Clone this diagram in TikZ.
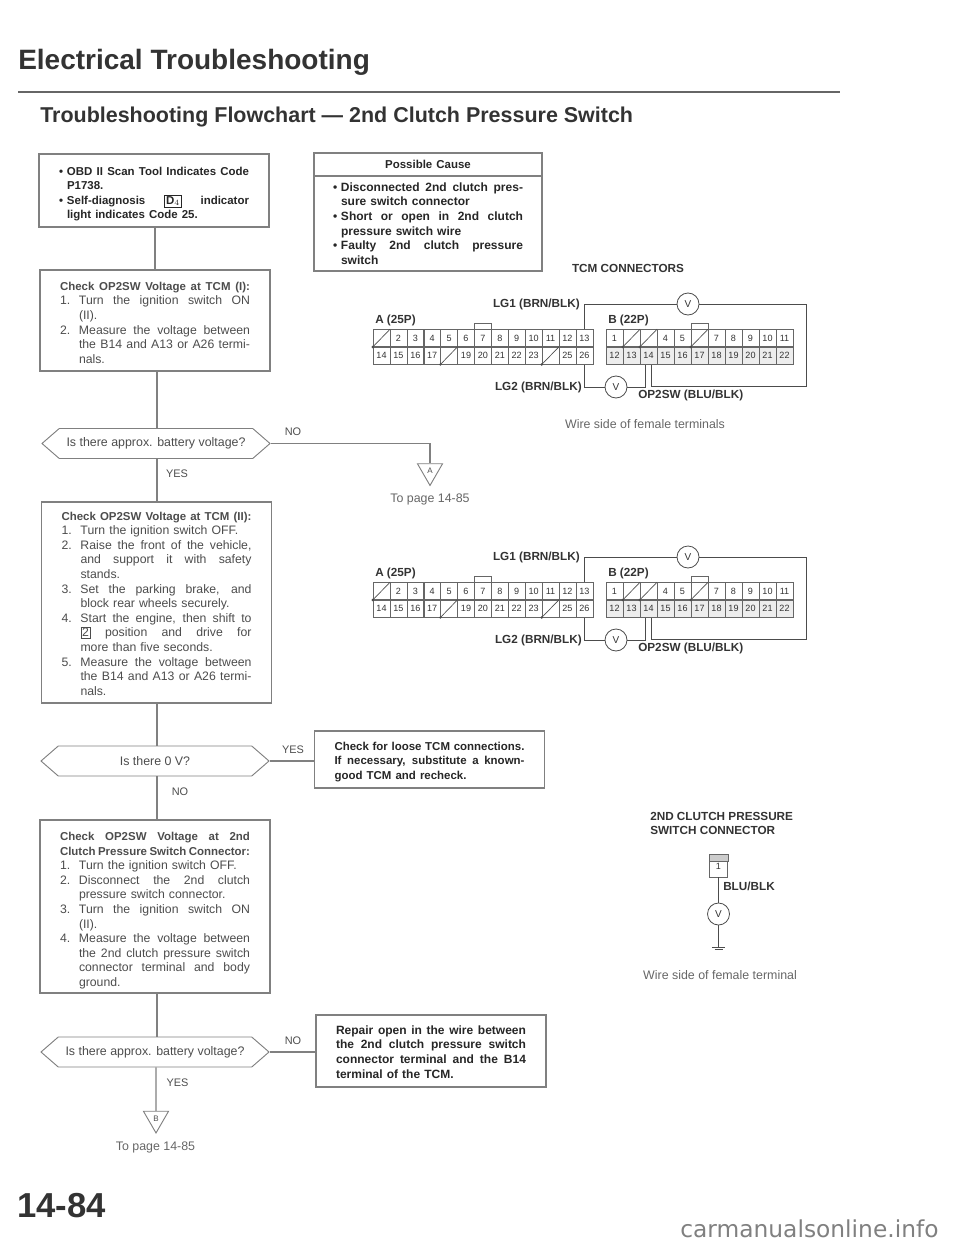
\documentclass[tikz,border=0pt]{standalone}
\usepackage{fontspec}
\setmainfont{Liberation Sans}
\newfontfamily\sitefont{DejaVu Sans}
\usetikzlibrary{shapes.geometric,shapes.symbols}

\definecolor{inkgray}{gray}{0.3}
\definecolor{linegray}{gray}{0.5}

% one justified line of a box, with and without bullet or step number
\newcommand{\jline}[2]{\makebox[#1][s]{\spaceskip=0pt\relax\xspaceskip=0pt\relax #2}}
\newcommand{\fullln}[1]{\jline{142.5pt}{#1}}
\newcommand{\bulln}[1]{\makebox[6pt][l]{\textbullet}\jline{136.5pt}{#1}}
\newcommand{\bulend}[1]{\hspace*{6pt}#1}
\newcommand{\stepln}[2]{\makebox[14.25pt][l]{#1}\jline{128.25pt}{#2}}
\newcommand{\stepend}[2]{\makebox[14.25pt][l]{#1}#2}
\newcommand{\keybox}[1]{{\setlength{\fboxsep}{1pt}\setlength{\fboxrule}{0.3pt}\fbox{#1}}}
\newcommand{\toppad}[1]{\rule{0pt}{#1}}
\newcommand{\hdln}[1]{{\fontsize{8.6}{10.95}\selectfont\bfseries #1}}
\newcommand{\hdbig}[1]{{\fontsize{9}{10.95}\selectfont\bfseries #1}}

\tikzset{
    stepbox/.style={draw=linegray,line width=0.8pt,inner xsep=15pt,inner ysep=0pt,text width=142.5pt,align=left,
        text=inkgray,font=\fontsize{9.2}{10.95}\selectfont},
    causebox/.style={stepbox,inner xsep=14.25pt,minimum width=171pt,text=black!85},
    askbox/.style={draw=linegray,line width=0.7pt,signal,signal to=west and east,signal pointer angle=82,
        minimum width=171pt,minimum height=22.5pt,inner sep=0pt,text=inkgray,font=\fontsize{9.3}{11}\selectfont},
    answer/.style={text=inkgray,inner sep=0pt,font=\fontsize{8.2}{10}\selectfont},
    flow/.style={draw=linegray,line width=0.8pt},
    wire/.style={draw=black!70,line width=0.6pt},
    pagemark/.style={draw=linegray,line width=0.7pt,regular polygon,regular polygon sides=3,shape border rotate=180,
        minimum size=21.7pt,inner sep=0pt,text=inkgray,font=\fontsize{6}{7}\selectfont},
    pin/.style={draw=black!60,line width=0.4pt,minimum width=12.7pt,minimum height=13.1pt,inner sep=0pt,
        text=black!80,font=\fontsize{6.8}{8}\selectfont},
    meter/.style={draw=black!70,line width=0.6pt,circle,minimum size=16.5pt,inner sep=0pt,fill=white,
        text=black!80,font=\fontsize{7.5}{8}\selectfont},
    wirelabel/.style={inner sep=0pt,text=black!80,font=\bfseries\fontsize{8.8}{10.5}\selectfont},
    note/.style={inner sep=0pt,text=black!60,font=\fontsize{9.3}{11}\selectfont}
}

\begin{document}
\begin{tikzpicture}[x=0.75pt,y=-0.75pt]
    \useasboundingbox (0,0) rectangle (960,1245);

    % headings
    \node[anchor=west,inner sep=0pt,text=black!80,font=\bfseries\fontsize{21}{25}\selectfont] (title) at (18,62) {Electrical Troubleshooting};
    \coordinate (ruleL) at (18,92);
    \coordinate (ruleR) at (840,92);
    \draw[black!60,line width=1.3pt] (ruleL) -- (ruleR);
    \node[anchor=west,inner sep=0pt,text=black!80,font=\bfseries\fontsize{16.1}{19}\selectfont] (subtitle) at (40,117) {Troubleshooting Flowchart --- 2nd Clutch Pressure Switch};
    \node[anchor=west,inner sep=0pt,text=black!80,font=\bfseries\fontsize{26}{30}\selectfont] (pageno) at (17,1206) {14-84};
    \node[anchor=west,inner sep=0pt,text=black!50,font=\sitefont\fontsize{17.5}{20}\selectfont] (site) at (680,1229) {carmanualsonline.info};

    % flowchart, left column
    \node[stepbox,minimum height=54.75pt,text=black!85] (scan) at (154,190.5) {%
        \toppad{11.7pt}\hdln{\bulln{OBD II Scan Tool Indicates Code}}\\
        \hdln{\bulend{P1738.}}\\
        \hdln{\bulln{Self-diagnosis \keybox{D$_4$} indicator}}\\
        \hdln{\bulend{light indicates Code 25.}}};
    \node[stepbox,minimum height=75.75pt] (chkone) at (155,320.5) {%
        \toppad{9.5pt}\hdln{\fullln{Check OP2SW Voltage at TCM (I):}}\\
        \stepln{1.}{Turn the ignition switch ON}\\
        \stepend{}{(II).}\\
        \stepln{2.}{Measure the voltage between}\\
        \stepln{}{the B14 and A13 or A26 termi-}\\
        \stepend{}{nals.}};
    \node[askbox] (askone) at (156,443.5) {Is there approx. battery voltage?};
    \node[stepbox,minimum height=150.75pt] (chktwo) at (156.5,602.5) {%
        \toppad{8pt}\hdln{\fullln{Check OP2SW Voltage at TCM (II):}}\\
        \stepend{1.}{Turn the ignition switch OFF.}\\
        \stepln{2.}{Raise the front of the vehicle,}\\
        \stepln{}{and support it with safety}\\
        \stepend{}{stands.}\\
        \stepln{3.}{Set the parking brake, and}\\
        \stepend{}{block rear wheels securely.}\\
        \stepln{4.}{Start the engine, then shift to}\\
        \stepln{}{\keybox{2} position and drive for}\\
        \stepend{}{more than five seconds.}\\
        \stepln{5.}{Measure the voltage between}\\
        \stepln{}{the B14 and A13 or A26 termi-}\\
        \stepend{}{nals.}};
    \node[askbox] (asktwo) at (155,761) {Is there 0 V?};
    \node[stepbox,minimum height=129.75pt] (chkthree) at (155,906.5) {%
        \toppad{12.5pt}\hdln{\fullln{Check OP2SW Voltage at 2nd}}\\
        \hdln{\fullln{Clutch Pressure Switch Connector:}}\\
        \stepend{1.}{Turn the ignition switch OFF.}\\
        \stepln{2.}{Disconnect the 2nd clutch}\\
        \stepend{}{pressure switch connector.}\\
        \stepln{3.}{Turn the ignition switch ON}\\
        \stepend{}{(II).}\\
        \stepln{4.}{Measure the voltage between}\\
        \stepln{}{the 2nd clutch pressure switch}\\
        \stepln{}{connector terminal and body}\\
        \stepend{}{ground.}};
    \node[askbox] (askthree) at (155,1052) {Is there approx. battery voltage?};
    \node[pagemark] (markB) at (156,1118.5) {B};
    \node[note] (pageB) at (155.5,1147) {To page 14-85};
    \node[pagemark] (markA) at (430,471) {A};
    \node[note] (pageA) at (430,499) {To page 14-85};

    % flowchart, right column
    \node[causebox,minimum height=17.25pt,align=center] (causehead) at (428,164.5) {\hdln{Possible Cause}};
    \node[causebox,minimum height=71.25pt] (causebody) at (428,223.5) {%
        \hdbig{\bulln{Disconnected 2nd clutch pres-}}\\
        \hdbig{\bulend{sure switch connector}}\\
        \hdbig{\bulln{Short or open in 2nd clutch}}\\
        \hdbig{\bulend{pressure switch wire}}\\
        \hdbig{\bulln{Faulty 2nd clutch pressure}}\\
        \hdbig{\bulend{switch}}};
    \node[stepbox,minimum height=42.75pt,text=black!85] (loose) at (429.5,759.5) {%
        \toppad{9.5pt}\hdln{\fullln{Check for loose TCM connections.}}\\
        \hdln{\fullln{If necessary, substitute a known-}}\\
        \hdln{good TCM and recheck.}};
    \node[stepbox,minimum height=54pt,text=black!85] (repair) at (431,1051) {%
        \toppad{8pt}\hdbig{\fullln{Repair open in the wire between}}\\
        \hdbig{\fullln{the 2nd clutch pressure switch}}\\
        \hdbig{\fullln{connector terminal and the B14}}\\
        \hdbig{terminal of the TCM.}};

    \draw[flow] (scan.south -| 155,0) -- (chkone.north -| 155,0);
    \draw[flow] (chkone.south -| 157,0) -- (askone.north -| 157,0);
    \draw[flow] (askone.south -| 157,0) -- (chktwo.north -| 157,0);
    \draw[flow] (chktwo.south -| 157,0) -- (asktwo.north -| 157,0);
    \draw[flow] (asktwo.south -| 157,0) -- (chkthree.north -| 157,0);
    \draw[flow] (chkthree.south -| 157,0) -- (askthree.north -| 157,0);
    \draw[flow] (askthree.south -| 156,0) -- (markB.north);
    \draw[flow] (askone.east) -| (markA.north);
    \draw[flow] (asktwo.east) -- (loose.west |- asktwo.east);
    \draw[flow] (askthree.east) -- (repair.west |- askthree.east);

    \node[answer] (noone) at (293,432) {NO};
    \node[answer] (yesone) at (177,474) {YES};
    \node[answer] (yestwo) at (293,750) {YES};
    \node[answer] (notwo) at (180,792) {NO};
    \node[answer] (nothree) at (293,1041) {NO};
    \node[answer] (yesthree) at (177.5,1083) {YES};

    % TCM connectors, drawn twice
    \node[wirelabel] (tcmtitle) at (628,268) {TCM CONNECTORS};
    \node[note] (wireside) at (645,424) {Wire side of female terminals};
    \foreach \s/\dy in {p/0,q/253} {
        \begin{scope}[shift={(0,\dy)}]
            \foreach \t [count=\n] in {{},2,3,4,5,6,7,8,9,10,11,12,13}
                \node[pin] (a\n\s) at ({381.5+16.9*(\n-1)},338) {\t};
            \foreach \t [count=\n from 14] in {14,15,16,17,{},19,20,21,22,23,{},25,26}
                \node[pin] (a\n\s) at ({381.5+16.9*(\n-14)},355.5) {\t};
            \foreach \t [count=\n] in {1,{},{},4,5,{},7,8,9,10,11}
                \node[pin] (b\n\s) at ({614.5+17*(\n-1)},338) {\t};
            \foreach \t [count=\n from 12] in {12,13,14,15,16,17,18,19,20,21,22}
                \node[pin,fill=black!7] (b\n\s) at ({614.5+17*(\n-12)},355.5) {\t};
            \foreach \c in {a1,a18,a24,b2,b3,b6} {
                \draw[black!70,line width=0.5pt] (\c\s.south west) -- (\c\s.north east);
                \fill[black!70] (\c\s.south west) circle (1pt);
            }
            \draw[black!60,line width=0.4pt] (a7\s.north west) -- ++(0,-6) -| (a7\s.north east);
            \draw[black!60,line width=0.4pt] (b6\s.north west) -- ++(0,-6) -| (b6\s.north east);
            \node[wirelabel,anchor=west] (alabel\s) at (375,320) {A (25P)};
            \node[wirelabel,anchor=west] (blabel\s) at (608,320) {B (22P)};
            \node[wirelabel,anchor=east] (lgone\s) at (580,304) {LG1 (BRN/BLK)};
            \node[wirelabel,anchor=east] (lgtwo\s) at (582,387) {LG2 (BRN/BLK)};
            \node[wirelabel,anchor=west] (opsw\s) at (638,395) {OP2SW (BLU/BLK)};
            \node[meter] (vtop\s) at (688,304) {V};
            \node[meter] (vbot\s) at (616,387) {V};
            \coordinate (wireR\s) at (806,386);
            \draw[wire] (a13\s.north) |- (vtop\s.west);
            \draw[wire] (vtop\s.east) -| (wireR\s) -| ([xshift=2pt]b14\s.south);
            \draw[wire] (a26\s.south) |- (vbot\s.west);
            \draw[wire] (vbot\s.east) -| ([xshift=-2pt]b14\s.south);
        \end{scope}
    }

    % switch connector
    \node[wirelabel,anchor=west] (swtitleA) at (650,816) {2ND CLUTCH PRESSURE};
    \node[wirelabel,anchor=west] (swtitleB) at (650,830) {SWITCH CONNECTOR};
    \node[pin,minimum height=16.5pt,minimum width=13.5pt] (swpin) at (718.5,866) {\raisebox{-2.5pt}{1}};
    \draw[black!60,line width=0.4pt,fill=black!20] (swpin.north west) rectangle ([yshift=-5pt]swpin.north east);
    \node[meter] (vsw) at (718.5,914) {V};
    \coordinate (gnd) at (718.5,947);
    \draw[wire] (swpin.south) -- (vsw.north);
    \draw[wire] (vsw.south) -- (gnd);
    \draw[wire] ([xshift=-5pt]gnd) -- ([xshift=5pt]gnd);
    \draw[wire] ([xshift=-3pt,yshift=-1.5pt]gnd) -- ([xshift=3pt,yshift=-1.5pt]gnd);
    \node[wirelabel,anchor=west] (bluwire) at (723,886) {BLU/BLK};
    \node[note] (swside) at (720,975) {Wire side of female terminal};
\end{tikzpicture}
\end{document}
